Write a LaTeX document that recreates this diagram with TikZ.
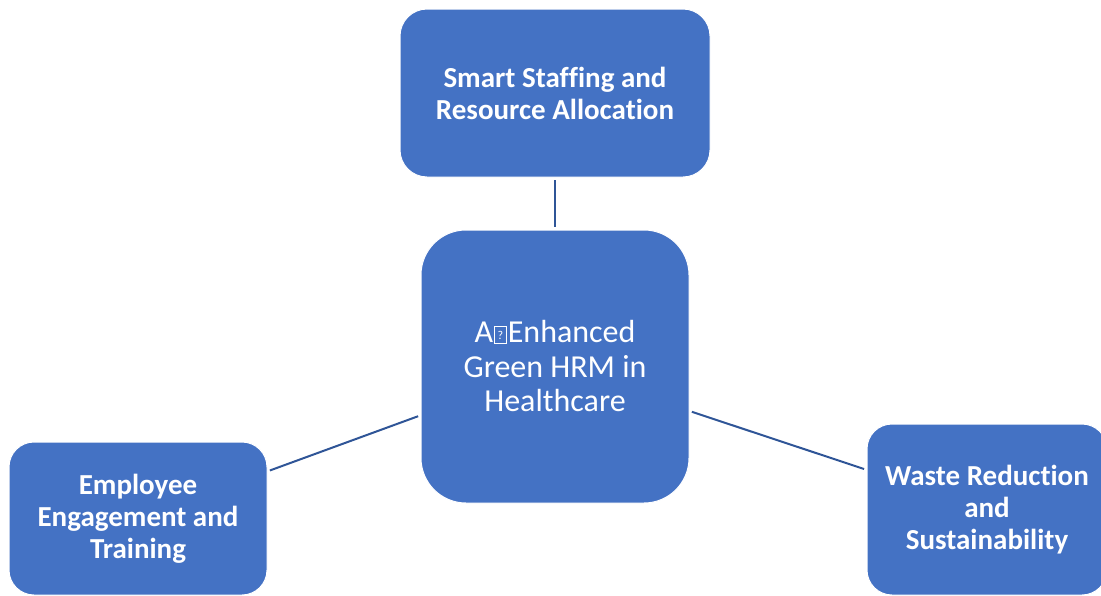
\documentclass[tikz,border=0pt]{standalone}
\usepackage{fontspec}
\setmainfont[Ligatures=NoCommon]{Carlito}
\definecolor{boxblue}{HTML}{4472C4}
\definecolor{lineblue}{HTML}{2F5597}
\newcommand{\missingglyph}{\kern1pt{\setlength\fboxsep{0pt}\setlength\fboxrule{0.9pt}\fbox{\makebox[11pt][c]{\rule{0pt}{16pt}\raisebox{3pt}{\fontsize{12}{12}\selectfont ?}}}}\kern1pt}
\begin{document}
\begin{tikzpicture}[x=1pt,y=-1pt,
  box/.style={fill=boxblue, draw=white, line width=1pt, text=white, align=center, inner sep=0pt},
  conn/.style={draw=lineblue, line width=2pt, shorten <=2.5pt, shorten >=2.5pt},
  outer/.style={font=\bfseries\fontsize{29}{32}\selectfont},
  inner/.style={font=\fontsize{32}{34.5}\selectfont}]
\useasboundingbox (0,0) rectangle (1101,595);
\node[box, outer, rounded corners=27pt, minimum width=310pt, minimum height=168pt] (top) at (555,93) {Smart Staffing and\\Resource Allocation};
\node[box, inner, rounded corners=45pt, minimum width=268pt, minimum height=273pt] (ctr) at (555,366.5) {A\missingglyph Enhanced\\Green HRM in\\Healthcare};
\node[box, outer, rounded corners=25pt, minimum width=258pt, minimum height=153pt] (lft) at (138,518.5) {Employee\\Engagement and\\Training};
\node[box, outer, rounded corners=25pt, minimum width=240pt, minimum height=171pt] (rgt) at (987,509.5) {Waste Reduction\\and\\Sustainability};
\draw[conn] (top) -- (ctr);
\draw[conn] (ctr) -- (lft);
\draw[conn] (ctr) -- (rgt);
\end{tikzpicture}
\end{document}
